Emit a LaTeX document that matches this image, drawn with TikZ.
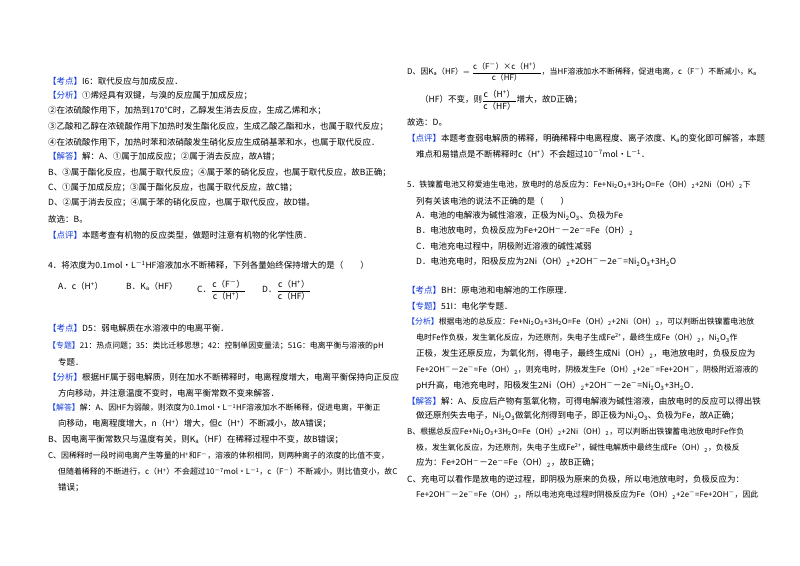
\documentclass[tikz,border=0pt]{standalone}
\usepackage{amsmath}
\usepackage{fontspec}
\setmainfont{Noto Sans CJK SC}
\usepackage{xcolor}
\definecolor{lbl}{RGB}{20,60,220}
\newcommand\Up[1]{\textsuperscript{#1}}
\newcommand\Dn[1]{\textsubscript{#1}}
\newcommand\LB[1]{{\color{lbl}【#1】}}
\newcommand\TL[4]{\node[txt] (#1) at (#2pt,-#3pt) {#4};}
\newcommand\TS[4]{\node[txt,tight] (#1) at (#2pt,-#3pt) {#4};}
\begin{document}
\begin{tikzpicture}[x=1pt,y=1pt,txt/.style={anchor=west,inner sep=0pt,font=\fontsize{8.5}{10}\selectfont},tight/.style={font=\fontsize{7.9}{10}\selectfont}]
\useasboundingbox[fill=white] (0,0) rectangle (800,-565);
% left column
\TL{a1}{48}{81}{\LB{考点}I6：取代反应与加成反应．}
\TL{a2}{48}{96}{\LB{分析}①烯烃具有双键，与溴的反应属于加成反应；}
\TL{a3}{48}{111}{②在浓硫酸作用下，加热到170℃时，乙醇发生消去反应，生成乙烯和水；}
\TL{a4}{48}{127}{③乙酸和乙醇在浓硫酸作用下加热时发生酯化反应，生成乙酸乙酯和水，也属于取代反应；}
\TL{a5}{48}{142}{④在浓硫酸作用下，加热时苯和浓硝酸发生硝化反应生成硝基苯和水，也属于取代反应．}
\TL{a6}{48}{157}{\LB{解答}解：A、①属于加成反应；②属于消去反应，故A错；}
\TL{a7}{48}{173}{B、③属于酯化反应，也属于取代反应；④属于苯的硝化反应，也属于取代反应，故B正确；}
\TL{a8}{48}{188}{C、①属于加成反应；③属于酯化反应，也属于取代反应，故C错；}
\TL{a9}{48}{203}{D、②属于消去反应；④属于苯的硝化反应，也属于取代反应，故D错。}
\TL{a10}{48}{219}{故选：B。}
\TL{a11}{48}{235}{\LB{点评}本题考查有机物的反应类型，做题时注意有机物的化学性质．}
\TL{q4}{48}{265}{4．将浓度为0.1mol•L\Up{－1}HF溶液加水不断稀释，下列各量始终保持增大的是（\quad\quad）}
\TL{o1}{58}{286}{A．c（H\Up{+}）}
\TL{o2}{126}{286}{B．K\Dn{a}（HF）}
\TL{o3}{197}{290}{C．$\dfrac{\mbox{c（F\Up{－}）}}{\mbox{c（H\Up{+}）}}$}
\TL{o4}{262}{290}{D．$\dfrac{\mbox{c（H\Up{+}）}}{\mbox{c（HF）}}$}
\TL{b1}{48}{328}{\LB{考点}D5：弱电解质在水溶液中的电离平衡．}
\TS{b2}{48}{346}{\LB{专题}21：热点问题；35：类比迁移思想；42：控制单因变量法；51G：电离平衡与溶液的pH}
\TL{b3}{58}{362}{专题．}
\TL{b4}{48}{377}{\LB{分析}根据HF属于弱电解质，则在加水不断稀释时，电离程度增大，电离平衡保持向正反应}
\TL{b5}{58}{393}{方向移动，并注意温度不变时，电离平衡常数不变来解答．}
\TS{b6}{48}{408}{\LB{解答}解：A、因HF为弱酸，则浓度为0.1mol•L\Up{－1}HF溶液加水不断稀释，促进电离，平衡正}
\TL{b7}{58}{424}{向移动，电离程度增大，n（H\Up{+}）增大，但c（H\Up{+}）不断减小，故A错误；}
\TL{b8}{48}{440}{B、因电离平衡常数只与温度有关，则K\Dn{a}（HF）在稀释过程中不变，故B错误；}
\TS{b9}{48}{456}{C、因稀释时一段时间电离产生等量的H\Up{+}和F\Up{－}，溶液的体积相同，则两种离子的浓度的比值不变，}
\TS{b10}{58}{472}{但随着稀释的不断进行，c（H\Up{+}）不会超过10\Up{－7}mol•L\Up{－1}，c（F\Up{－}）不断减小，则比值变小，故C}
\TL{b11}{58}{488}{错误；}
% right column
\TS{c1}{407}{72}{D、因K\Dn{a}（HF）$=\dfrac{\mbox{c（F\Up{－}）×c（H\Up{+}）}}{\mbox{c（HF）}}$，当HF溶液加水不断稀释，促进电离，c（F\Up{－}）不断减小，K\Dn{a}}
\TL{c2}{420}{100}{（HF）不变，则$\dfrac{\mbox{c（H\Up{+}）}}{\mbox{c（HF）}}$增大，故D正确；}
\TL{c3}{407}{122}{故选：D。}
\TL{c4}{407}{138}{\LB{点评}本题考查弱电解质的稀释，明确稀释中电离程度、离子浓度、K\Dn{a}的变化即可解答，本题}
\TL{c5}{416}{154}{难点和易错点是不断稀释时c（H\Up{+}）不会超过10\Up{－7}mol•L\Up{－1}．}
\TS{d1}{407}{185}{5．铁镍蓄电池又称爱迪生电池，放电时的总反应为：Fe+Ni\Dn{2}O\Dn{3}+3H\Dn{2}O=Fe（OH）\Dn{2}+2Ni（OH）\Dn{2}下}
\TL{d2}{416}{201}{列有关该电池的说法不正确的是（\quad\quad）}
\TL{d3}{416}{216}{A．电池的电解液为碱性溶液，正极为Ni\Dn{2}O\Dn{3}、负极为Fe}
\TL{d4}{416}{231}{B．电池放电时，负极反应为Fe+2OH\Up{－}－2e\Up{－}=Fe（OH）\Dn{2}}
\TL{d5}{416}{246}{C．电池充电过程中，阴极附近溶液的碱性减弱}
\TL{d6}{416}{262}{D．电池充电时，阳极反应为2Ni（OH）\Dn{2}+2OH\Up{－}－2e\Up{－}=Ni\Dn{2}O\Dn{3}+3H\Dn{2}O}
\TL{e1}{407}{290}{\LB{考点}BH：原电池和电解池的工作原理．}
\TL{e2}{407}{306}{\LB{专题}51I：电化学专题．}
\TS{e3}{407}{322}{\LB{分析}根据电池的总反应：Fe+Ni\Dn{2}O\Dn{3}+3H\Dn{2}O=Fe（OH）\Dn{2}+2Ni（OH）\Dn{2}，可以判断出铁镍蓄电池放}
\TS{e4}{416}{338}{电时Fe作负极，发生氧化反应，为还原剂，失电子生成Fe\Up{2+}，最终生成Fe（OH）\Dn{2}，Ni\Dn{2}O\Dn{3}作}
\TL{e5}{416}{354}{正极，发生还原反应，为氧化剂，得电子，最终生成Ni（OH）\Dn{2}，电池放电时，负极反应为}
\TS{e6}{416}{370}{Fe+2OH\Up{－}－2e\Up{－}=Fe（OH）\Dn{2}，则充电时，阴极发生Fe（OH）\Dn{2}+2e\Up{－}=Fe+2OH\Up{－}，阴极附近溶液的}
\TL{e7}{416}{386}{pH升高，电池充电时，阳极发生2Ni（OH）\Dn{2}+2OH\Up{－}－2e\Up{－}=Ni\Dn{2}O\Dn{3}+3H\Dn{2}O．}
\TL{e8}{407}{401}{\LB{解答}解：A、反应后产物有氢氧化物，可得电解液为碱性溶液，由放电时的反应可以得出铁}
\TL{e9}{416}{416}{做还原剂失去电子，Ni\Dn{2}O\Dn{3}做氧化剂得到电子，即正极为Ni\Dn{2}O\Dn{3}、负极为Fe，故A正确；}
\TS{e10}{407}{432}{B、根据总反应Fe+Ni\Dn{2}O\Dn{3}+3H\Dn{2}O=Fe（OH）\Dn{2}+2Ni（OH）\Dn{2}，可以判断出铁镍蓄电池放电时Fe作负}
\TS{e11}{416}{448}{极，发生氧化反应，为还原剂，失电子生成Fe\Up{2+}，碱性电解质中最终生成Fe（OH）\Dn{2}，负极反}
\TL{e12}{416}{463}{应为：Fe+2OH\Up{－}－2e\Up{－}=Fe（OH）\Dn{2}，故B正确；}
\TL{e13}{407}{479}{C、充电可以看作是放电的逆过程，即阴极为原来的负极，所以电池放电时，负极反应为：}
\TS{e14}{416}{495}{Fe+2OH\Up{－}－2e\Up{－}=Fe（OH）\Dn{2}，所以电池充电过程时阴极反应为Fe（OH）\Dn{2}+2e\Up{－}=Fe+2OH\Up{－}，因此}
\end{tikzpicture}
\end{document}
